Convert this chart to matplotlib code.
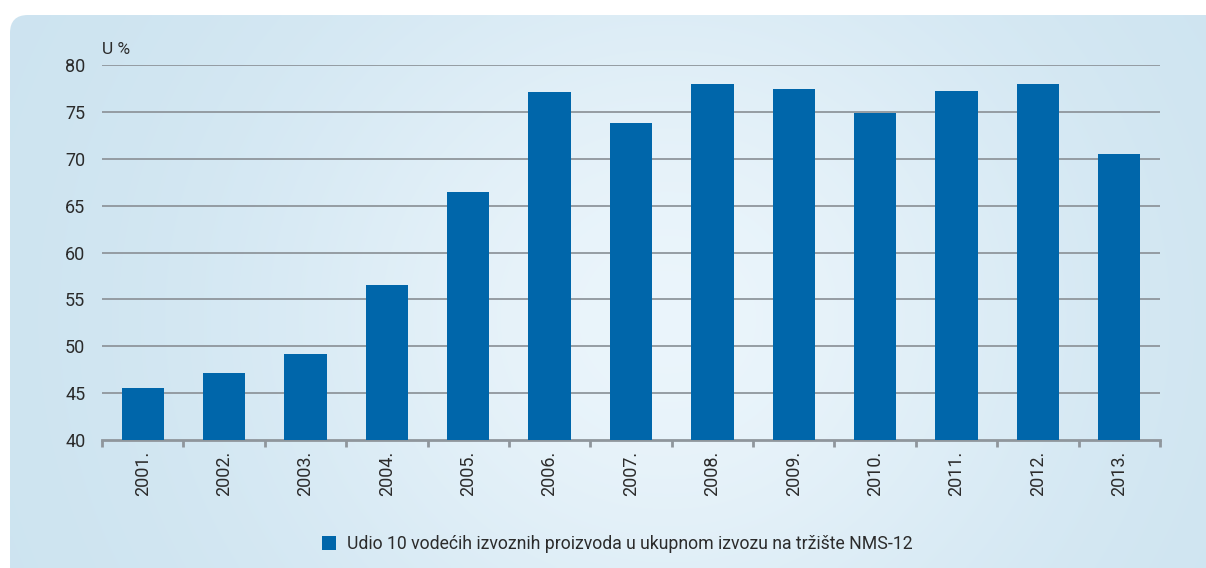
import matplotlib.pyplot as plt
import numpy as np
from matplotlib.patches import FancyBboxPatch

plt.rcParams['font.family'] = ['Roboto', 'DejaVu Sans']

years = ['2001.', '2002.', '2003.', '2004.', '2005.', '2006.', '2007.',
         '2008.', '2009.', '2010.', '2011.', '2012.', '2013.']
share = [45.5, 47.2, 49.2, 56.5, 66.4, 77.1, 73.8, 78.0, 77.4, 74.9, 77.2, 78.0, 70.5]
legend_label = 'Udio 10 vodećih izvoznih proizvoda u ukupnom izvozu na tržište NMS-12'

bar_color = '#0066aa'
grid_color = '#8f969c'
text_color = '#2b2b2b'

fig = plt.figure(figsize=(12.06, 5.68), dpi=100)
fig.patch.set_facecolor('white')

# background panel with soft gradient and rounded top-left corner
bg = fig.add_axes([0, 0, 1, 1], zorder=0)
bg.set_xlim(0, 1206)
bg.set_ylim(568, 0)
bg.axis('off')
gx = np.linspace(0, 1, 300)
gy = np.linspace(0, 1, 150)
X, Y = np.meshgrid(gx, gy)
d = np.exp(-((X - 0.55) ** 2) / 0.12 - ((Y - 0.55) ** 2) / 0.5)
c_edge = np.array([0.80, 0.89, 0.94])
c_mid = np.array([0.92, 0.96, 0.985])
img = c_edge[None, None, :] * (1 - d[..., None]) + c_mid[None, None, :] * d[..., None]
panel = FancyBboxPatch((10, 15), 1260, 620, boxstyle='round,pad=0,rounding_size=18',
                       facecolor='none', edgecolor='none')
bg.add_patch(panel)
im = bg.imshow(img, extent=(10, 1206, 568, 15), aspect='auto', interpolation='bilinear')
im.set_clip_path(panel)

ax = fig.add_axes([102 / 1206, 1 - 440 / 568, (1160 - 102) / 1206, (440 - 65) / 568], zorder=1)
ax.patch.set_alpha(0)

x = np.arange(len(years))
ax.bar(x, [v - 40 for v in share], bottom=40, width=0.52, color=bar_color, zorder=3,
       label=legend_label)

ax.set_xlim(-0.5, len(years) - 0.5)
ax.set_ylim(40, 80)
ax.set_yticks(range(40, 81, 5))
for yv in range(45, 81, 5):
    ax.axhline(yv, color=grid_color, lw=1.3, zorder=1)

for s in ['top', 'right', 'left']:
    ax.spines[s].set_visible(False)
ax.spines['bottom'].set_color(grid_color)
ax.spines['bottom'].set_linewidth(2)

ax.set_xticks(np.arange(-0.5, len(years), 1))
ax.set_xticklabels([])
ax.set_xticks(x, minor=True)
ax.set_xticklabels(years, minor=True, rotation=90, fontsize=13, color=text_color)
ax.tick_params(axis='x', which='major', length=5, width=2, color=grid_color, direction='out')
ax.tick_params(axis='x', which='minor', length=0, pad=8)
ax.tick_params(axis='y', length=0, labelsize=13, labelcolor=text_color, pad=12)

ax.text(0.0, 1.022, 'U %', transform=ax.transAxes, fontsize=12.5, color=text_color,
        ha='left', va='bottom')

leg = fig.legend(loc='center', bbox_to_anchor=(617 / 1206, 1 - 544 / 568), frameon=False,
                 fontsize=12.7, handlelength=0.8, handleheight=0.8, handletextpad=0.6)
for t in leg.get_texts():
    t.set_color(text_color)

fig.savefig('out.png', dpi=100, facecolor='white')
